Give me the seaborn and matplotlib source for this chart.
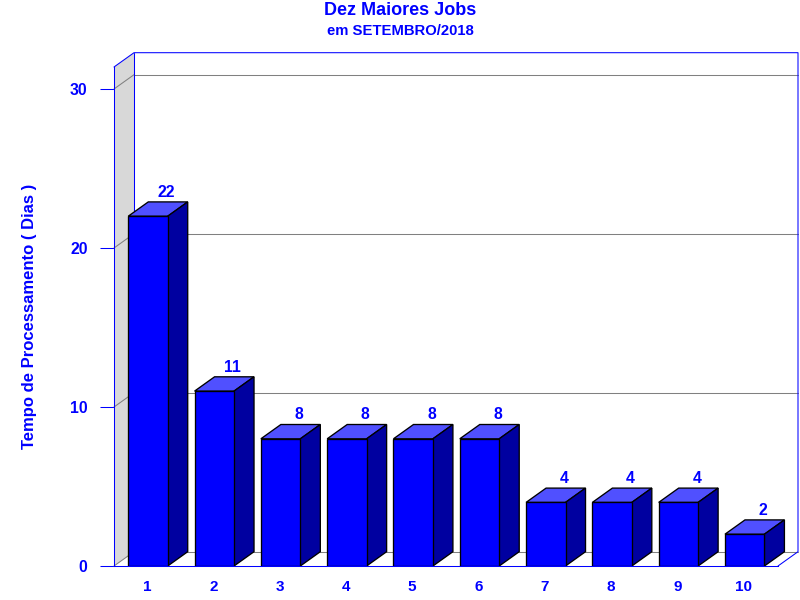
import matplotlib
matplotlib.use("Agg")
import matplotlib.pyplot as plt
from matplotlib.patches import Polygon
from matplotlib.transforms import ScaledTranslation
import pandas as pd
import seaborn as sns

jobs = ["1", "2", "3", "4", "5", "6", "7", "8", "9", "10"]
dias = [22, 11, 8, 8, 8, 8, 4, 4, 4, 2]
yticks = [0, 10, 20, 30]
title = "Dez Maiores Jobs"
subtitle = "em SETEMBRO/2018"
ylabel = "Tempo de Processamento ( Dias )"

BLUE = "#0000ff"
TOP = "#5050ff"
SIDE = "#0000a0"
GRAY = "#808080"
WALL = "#d8d8d8"
FONT = "Liberation Sans"

W, H = 800, 600
LEFT, RIGHT, BOTTOM, TOPY = 114, 778, 566, 67
PX_PER_UNIT = 15.9
SPACING = 66.3
DX = 20 / SPACING
DY = 14.3 / PX_PER_UNIT
YMAX = (BOTTOM - TOPY) / PX_PER_UNIT
BAR = 0.595

sns.set_theme(style="white", rc={"font.family": FONT})
plt.rcParams["font.family"] = [FONT, "DejaVu Sans"]

fig = plt.figure(figsize=(8, 6), dpi=100, facecolor="white")
ax = fig.add_axes([LEFT / W, 1 - BOTTOM / H, (RIGHT - LEFT) / W, (BOTTOM - TOPY) / H])
ax.patch.set_alpha(0)

df = pd.DataFrame({"job": jobs, "dias": dias})
sns.barplot(data=df, x="job", y="dias", order=jobs, color=BLUE, saturation=1,
            width=BAR, edgecolor="black", linewidth=0.95, ax=ax, zorder=5)

x0, x1 = -34 / SPACING, len(jobs) - 1 + 33.3 / SPACING
ax.set_xlim(x0, x1)
ax.set_ylim(0, YMAX)

# walls of the 3D box
ax.add_patch(Polygon([(x0, 0), (x0 + DX, DY), (x0 + DX, YMAX + DY), (x0, YMAX)],
                     closed=True, fc=WALL, ec="none", clip_on=False, zorder=1))
for v in yticks:
    if v:
        ax.plot([x0 + DX, x1 + DX], [v + DY, v + DY], color=GRAY, lw=0.75,
                clip_on=False, zorder=2)
    ax.plot([x0, x0 + DX], [v, v + DY], color=GRAY, lw=0.75, clip_on=False, zorder=2)
ax.plot([x0 + DX, x1 + DX], [DY, DY], color=GRAY, lw=0.75, clip_on=False, zorder=2)
frame = dict(color=BLUE, lw=0.75, clip_on=False, zorder=3)
ax.plot([x0, x0 + DX, x1 + DX, x1 + DX, x1], [YMAX, YMAX + DY, YMAX + DY, DY, 0], **frame)
ax.plot([x0 + DX, x0 + DX], [DY, YMAX + DY], **frame)

# 3D faces of each bar
for i, v in enumerate(dias):
    l, r = i - BAR / 2, i + BAR / 2
    ax.add_patch(Polygon([(l, v), (r, v), (r + DX, v + DY), (l + DX, v + DY)], closed=True,
                         fc=TOP, ec="black", lw=0.95, clip_on=False, zorder=4))
    ax.add_patch(Polygon([(r, 0), (r + DX, DY), (r + DX, v + DY), (r, v)], closed=True,
                         fc=SIDE, ec="black", lw=0.95, clip_on=False, zorder=4))
    ax.annotate(str(v), (i, v), xytext=(13.2, 17.3), textcoords="offset points",
                ha="center", va="center", color=BLUE, fontsize=11.3, fontweight="bold",
                zorder=6, annotation_clip=False)

for s in ("top", "right"):
    ax.spines[s].set_visible(False)
for s in ("left", "bottom"):
    ax.spines[s].set_color(BLUE)
    ax.spines[s].set_linewidth(0.75)
    ax.spines[s].set_zorder(6)

ax.set_yticks(yticks)
ax.tick_params(axis="y", direction="out", length=10, width=0.75, color=BLUE, pad=9,
               left=True, labelcolor=BLUE, labelsize=11.3)
ax.tick_params(axis="x", length=0, pad=10, labelcolor=BLUE, labelsize=11)
shift = ScaledTranslation(-1 / 100, 0, fig.dpi_scale_trans)
for t in ax.get_xticklabels():
    t.set_fontweight("bold")
    t.set_transform(t.get_transform() + shift)
for t in ax.get_yticklabels():
    t.set_fontweight("bold")

ax.set_xlabel("")
ax.set_ylabel("")
fig.text(29.5 / W, 1 - 316 / H, ylabel, rotation=90, ha="center", va="center",
         color=BLUE, fontsize=12, fontweight="bold")
fig.text(400 / W, 1 - 10.5 / H, title, ha="center", va="center", color=BLUE,
         fontsize=13, fontweight="bold")
fig.text(400 / W, 1 - 31 / H, subtitle, ha="center", va="center", color=BLUE,
         fontsize=10.7, fontweight="bold")

fig.savefig("out.png", dpi=100)
